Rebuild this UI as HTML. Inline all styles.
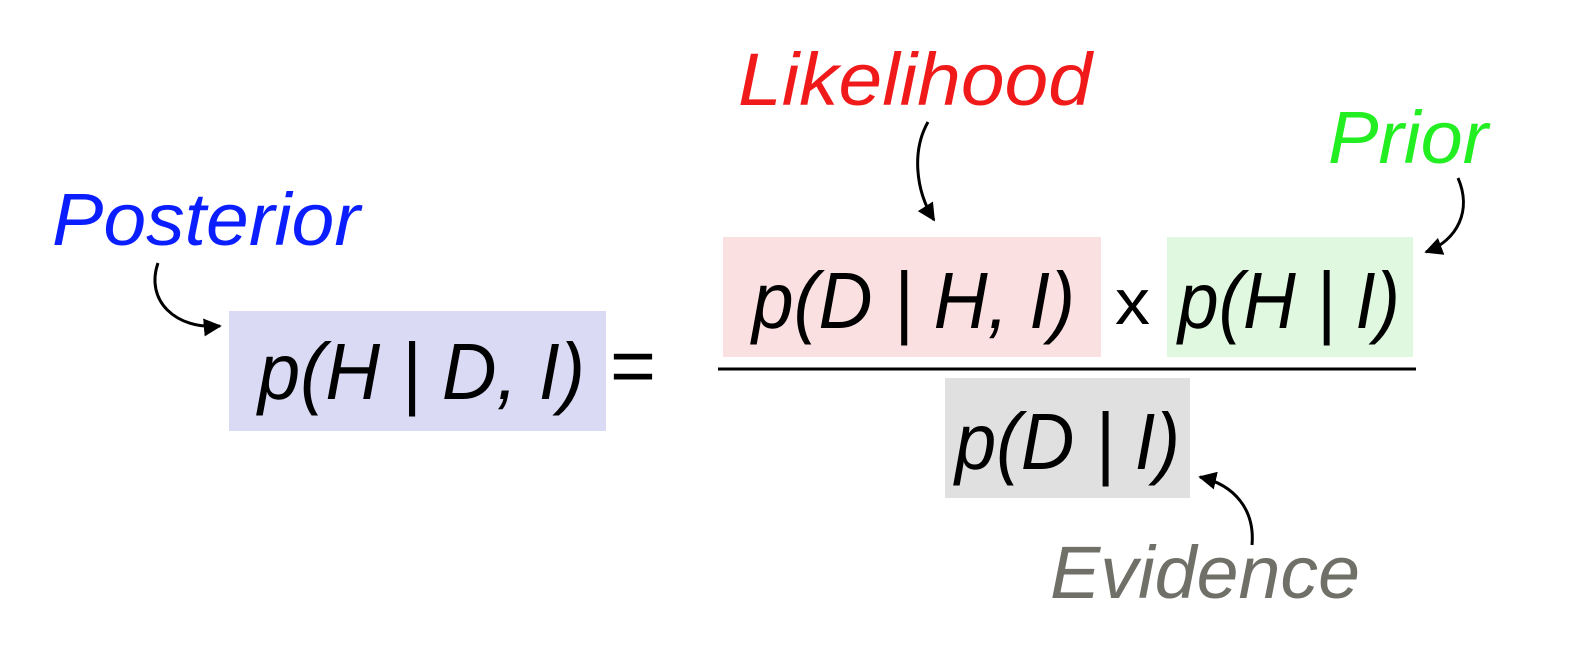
<!DOCTYPE html>
<html><head><meta charset="utf-8"><style>
html,body{margin:0;padding:0;background:#fff;}
svg{display:block;}
text{font-family:"Liberation Sans",sans-serif;font-style:italic;}
</style></head><body>
<svg width="1583" height="646" viewBox="0 0 1583 646">
<defs>
<marker id="ah" viewBox="0 0 10 10" refX="9" refY="5" markerWidth="6" markerHeight="6" orient="auto-start-reverse"><path d="M0,0 L10,5 L0,10 z" fill="#000"/></marker>
</defs>
<rect x="229" y="311" width="377" height="120" fill="#dadaf5"/>
<rect x="723" y="237" width="378" height="120" fill="#fae0e0"/>
<rect x="1167" y="237" width="246" height="120" fill="#dff8df"/>
<rect x="945" y="378" width="245" height="120" fill="#e0e0e0"/>

<text x="52" y="245" font-size="74" fill="#0a1eff" textLength="308" lengthAdjust="spacingAndGlyphs">Posterior</text>
<text x="738" y="105" font-size="74" fill="#f01a1a" textLength="354" lengthAdjust="spacingAndGlyphs">Likelihood</text>
<text x="1328" y="163" font-size="74" fill="#22ee22" textLength="160" lengthAdjust="spacingAndGlyphs">Prior</text>
<text x="1050" y="598" font-size="74" fill="#707068" textLength="310" lengthAdjust="spacingAndGlyphs">Evidence</text>

<text x="258" y="399" font-size="80" fill="#000" textLength="327" lengthAdjust="spacingAndGlyphs">p(H | D, I)</text>
<text x="610" y="393" font-size="80" fill="#000" style="font-style:normal" textLength="46" lengthAdjust="spacingAndGlyphs">=</text>
<text x="752" y="328" font-size="80" fill="#000" textLength="323" lengthAdjust="spacingAndGlyphs">p(D | H, I)</text>
<text x="1115" y="324" font-size="64" fill="#000" style="font-style:normal" textLength="35" lengthAdjust="spacingAndGlyphs">x</text>
<text x="1178" y="328" font-size="80" fill="#000" textLength="222" lengthAdjust="spacingAndGlyphs">p(H | I)</text>
<text x="955" y="469" font-size="80" fill="#000" textLength="225" lengthAdjust="spacingAndGlyphs">p(D | I)</text>

<line x1="718" y1="369" x2="1416" y2="369" stroke="#000" stroke-width="3"/>

<path d="M158,263 C145,300 175,330 220,326" fill="none" stroke="#000" stroke-width="3" marker-end="url(#ah)"/>
<path d="M928,122 C912,150 915,190 934,220" fill="none" stroke="#000" stroke-width="3" marker-end="url(#ah)"/>
<path d="M1458,178 C1472,210 1458,240 1426,252" fill="none" stroke="#000" stroke-width="3" marker-end="url(#ah)"/>
<path d="M1252,545 C1255,510 1235,485 1200,477" fill="none" stroke="#000" stroke-width="3" marker-end="url(#ah)"/>
</svg>
</body></html>
